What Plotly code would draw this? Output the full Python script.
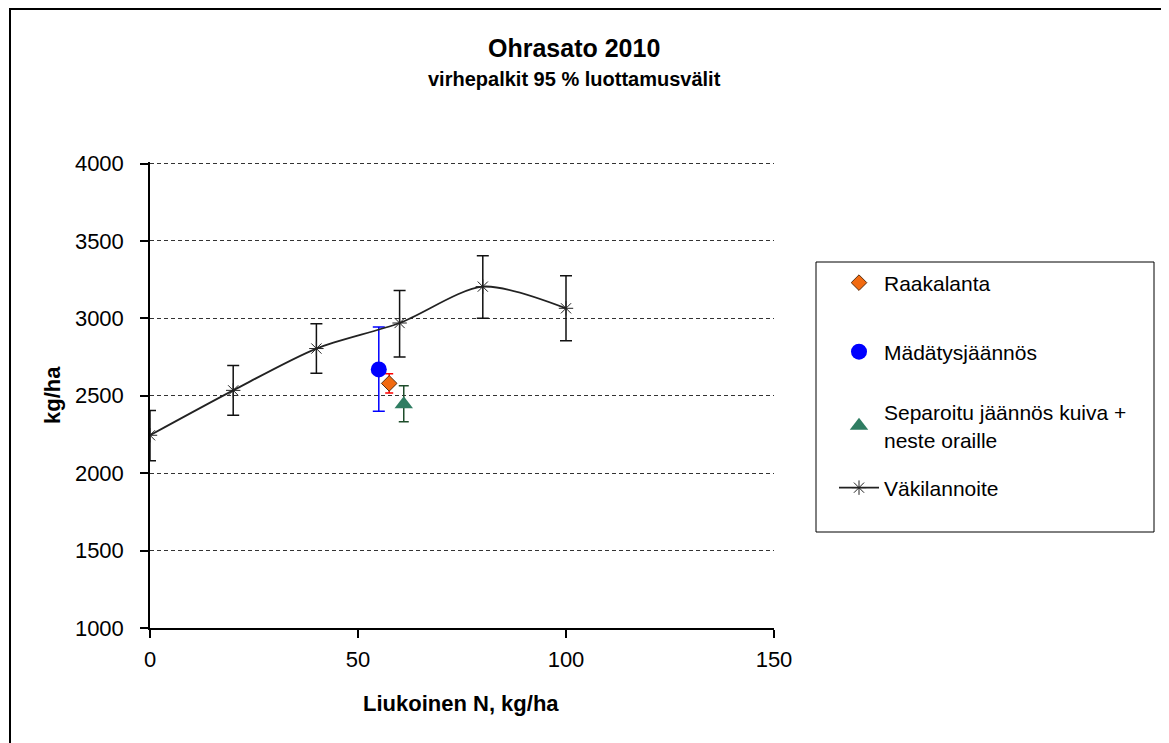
import plotly.graph_objects as go

# Data
vaki_x = [0, 20, 40, 60, 80, 100]
vaki_y = [2245, 2535, 2805, 2970, 3205, 3065]
vaki_err_plus = [160, 160, 160, 210, 200, 210]
vaki_err_minus = [165, 160, 160, 220, 205, 210]

raaka_x = [57.5]
raaka_y = [2580]
raaka_err = [62]

madat_x = [55]
madat_y = [2670]
madat_err_plus = [275]
madat_err_minus = [270]

separ_x = [61]
separ_y = [2445]
separ_err_plus = [120]
separ_err_minus = [112]

x_ticks = [0, 50, 100, 150]
y_ticks = [1000, 1500, 2000, 2500, 3000, 3500, 4000]

FONT = "Liberation Sans, Arial, sans-serif"
OFF = 8  # page body margin

# plot area in reference pixels
PX0, PX1, PY0, PY1 = 150, 774, 162, 628
pw, ph = PX1 - PX0, PY1 - PY0
L = PX0 - OFF
T = PY0 - OFF
R = 1169 - L - pw
B = 743 - T - ph


def px2x(p):
    return (p - PX0) / pw


def py2y(p):
    return (PY1 - p) / ph


fig = go.Figure()

fig.add_trace(go.Scatter(
    x=raaka_x, y=raaka_y, mode="markers", name="Raakalanta", legend="legend",
    marker=dict(symbol="diamond", size=12, color="#F26A10", line=dict(color="#5a3010", width=1)),
    error_y=dict(type="data", array=raaka_err, color="#FF0000", thickness=1.5, width=4),
))
fig.add_trace(go.Scatter(
    x=madat_x, y=madat_y, mode="markers", name="Mädätysjäännös", legend="legend2",
    marker=dict(symbol="circle", size=16, color="#0000FF"),
    error_y=dict(type="data", symmetric=False, array=madat_err_plus, arrayminus=madat_err_minus,
                 color="#0000FF", thickness=1.5, width=6),
))
fig.add_trace(go.Scatter(
    x=separ_x, y=separ_y, mode="markers", name="Separoitu jäännös kuiva +<br>neste oraille", legend="legend3",
    marker=dict(symbol="triangle-up", size=16, color="#2F7D62"),
    error_y=dict(type="data", symmetric=False, array=separ_err_plus, arrayminus=separ_err_minus,
                 color="#1E4D2B", thickness=1.5, width=5),
))
fig.add_trace(go.Scatter(
    x=vaki_x, y=vaki_y, mode="lines+markers", name="Väkilannoite", legend="legend4",
    line=dict(color="#222222", width=1.8, shape="spline", smoothing=0.8),
    marker=dict(symbol="asterisk-open", size=12, color="#222222", line=dict(color="#222222", width=1)),
    error_y=dict(type="data", symmetric=False, array=vaki_err_plus, arrayminus=vaki_err_minus,
                 color="#111111", thickness=1.5, width=6),
))

shapes = [
    dict(type="rect", xref="paper", yref="paper", x0=px2x(10), x1=px2x(1163), y0=py2y(770), y1=py2y(9),
         line=dict(color="black", width=2), fillcolor="rgba(0,0,0,0)", layer="below"),
    dict(type="rect", xref="paper", yref="paper", x0=px2x(816), x1=px2x(1154), y0=py2y(532), y1=py2y(262),
         line=dict(color="black", width=1), fillcolor="rgba(0,0,0,0)"),
]


def leg(ypx):
    return dict(x=px2x(834), y=py2y(ypx), xanchor="left", yanchor="middle",
                bgcolor="rgba(0,0,0,0)", borderwidth=0, font=dict(size=21, family=FONT),
                itemwidth=40)


fig.update_layout(
    width=1169, height=743,
    margin=dict(l=L, r=R, t=T, b=B),
    paper_bgcolor="white", plot_bgcolor="white",
    font=dict(family=FONT, color="black", size=21),
    showlegend=True,
    legend=leg(283),
    legend2=leg(352),
    legend3=leg(426),
    legend4=leg(488),
    shapes=shapes,
    annotations=[
        dict(text="<b>Ohrasato 2010</b>", xref="paper", yref="paper", x=px2x(574), y=py2y(48),
             xanchor="center", yanchor="middle", showarrow=False, font=dict(size=25, family=FONT)),
        dict(text="<b>virhepalkit 95 % luottamusvälit</b>", xref="paper", yref="paper", x=px2x(574), y=py2y(79),
             xanchor="center", yanchor="middle", showarrow=False, font=dict(size=20, family=FONT)),
        dict(text="<b>Liukoinen N, kg/ha</b>", xref="paper", yref="paper", x=px2x(461), y=py2y(703),
             xanchor="center", yanchor="middle", showarrow=False, font=dict(size=22, family=FONT)),
        dict(text="<b>kg/ha</b>", xref="paper", yref="paper", x=px2x(52), y=py2y(395), textangle=-90,
             xanchor="center", yanchor="middle", showarrow=False, font=dict(size=22, family=FONT)),
    ],
    xaxis=dict(range=[0, 150], tickvals=x_ticks, showgrid=False, zeroline=False,
               showline=True, linecolor="black", linewidth=1.5, ticks="outside", ticklen=8,
               tickcolor="black", tickwidth=1.5, tickfont=dict(size=22), ticklabelstandoff=3),
    yaxis=dict(range=[1000, 4010], tickvals=y_ticks, showgrid=True,
               gridcolor="#333333", griddash="4px,3px", gridwidth=1, zeroline=False,
               showline=True, linecolor="black", linewidth=1.5, ticks="outside", ticklen=8,
               tickcolor="black", tickwidth=1.5, tickfont=dict(size=22), ticklabelstandoff=12),
)

fig.write_html("out.html")
